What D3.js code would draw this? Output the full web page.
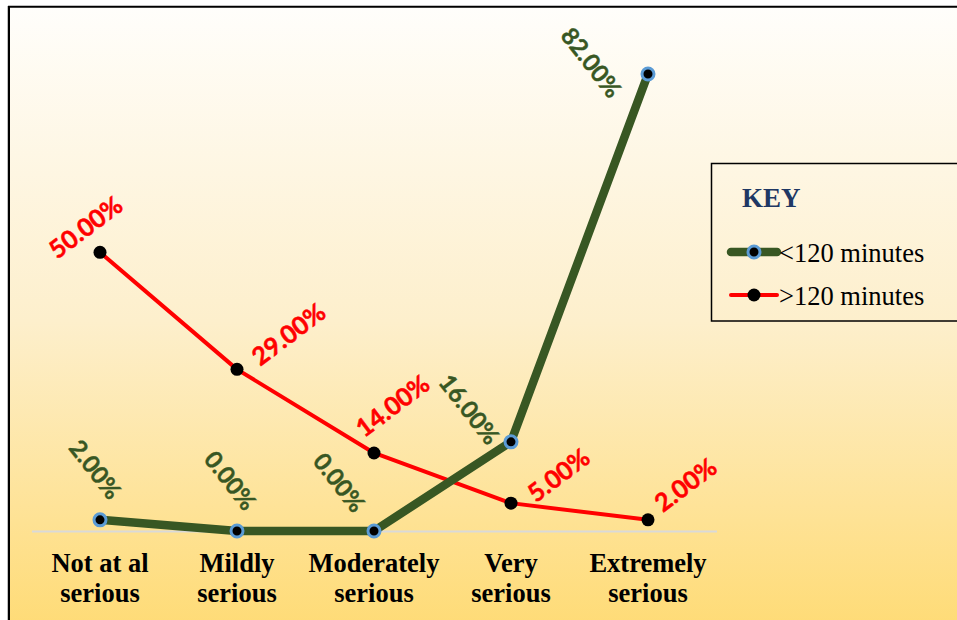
<!DOCTYPE html>
<html>
<head>
<meta charset="utf-8">
<script src="https://cdn.jsdelivr.net/npm/d3@7/dist/d3.min.js"></script>
<style>
  html, body { margin: 0; padding: 0; background: #ffffff; }
  svg { display: block; }
</style>
</head>
<body>
<svg id="chart" width="957" height="620"></svg>
<script>
// Perceived seriousness, by time spent
const categories = ["Not at al\nserious", "Mildly\nserious", "Moderately\nserious", "Very\nserious", "Extremely\nserious"];
const seriesNames = ["<120 minutes", ">120 minutes"];
const under120 = [0.02, 0.00, 0.00, 0.16, 0.82];
const over120 = [0.50, 0.29, 0.14, 0.05, 0.02];

// label nudges (label centre relative to its point), in px
const under120LabelNudge = [[-4, -51], [-6, -51], [-34, -49], [-41, -33], [-56, -12]];
const over120LabelNudge = [[-15, -26], [51, -36], [18, -48], [47, -29], [37, -36]];

const green = "#385723";
const red = "#ff0000";
const ringBlue = "#5b9bd5";

const svg = d3.select("#chart");

// background gradient
const defs = svg.append("defs");
const grad = defs.append("linearGradient").attr("id", "bg").attr("x1", 0).attr("y1", 0).attr("x2", 0).attr("y2", 1);
grad.append("stop").attr("offset", "0%").attr("stop-color", "#fffefb");
grad.append("stop").attr("offset", "45%").attr("stop-color", "#fdefcc");
grad.append("stop").attr("offset", "100%").attr("stop-color", "#ffd660");

svg.append("rect").attr("x", 8).attr("y", 6).attr("width", 1000).attr("height", 700).attr("fill", "url(#bg)");
svg.append("rect").attr("x", 9).attr("y", 6.75).attr("width", 1000).attr("height", 700)
  .attr("fill", "none").attr("stroke", "#000").attr("stroke-width", 2);
svg.append("line").attr("x1", 8.5).attr("x2", 8.5).attr("y1", 6).attr("y2", 620)
  .attr("stroke", "#000").attr("stroke-width", 1.5);

const x = d3.scaleBand().domain(categories).range([31.5, 716.5]);
const cx = c => x(c) + x.bandwidth() / 2;
const y = d3.scaleLinear().domain([0, 0.9]).range([531, 29.4]);

// category axis
const xAxis = svg.append("g").attr("transform", `translate(0,${y(0)})`)
  .call(d3.axisBottom(x).tickSize(0).tickFormat(""));
xAxis.select(".domain").attr("stroke", "#d9d9d9").attr("stroke-width", 2);

const catLabels = svg.append("g");
categories.forEach(c => {
  const t = catLabels.append("text")
    .attr("x", cx(c)).attr("y", 572)
    .attr("text-anchor", "middle")
    .attr("font-family", "'Liberation Serif', 'Times New Roman', serif")
    .attr("font-weight", "bold").attr("font-size", 26.5).attr("fill", "#000");
  c.split("\n").forEach((line, i) => {
    t.append("tspan").attr("x", cx(c)).attr("dy", i === 0 ? 0 : 30).text(line);
  });
});

const line = d3.line().x((d, i) => cx(categories[i])).y(d => y(d));
const pct = d3.format(".2%");

// >120 minutes
svg.append("path").datum(over120).attr("d", line)
  .attr("fill", "none").attr("stroke", red).attr("stroke-width", 4).attr("stroke-linejoin", "round");

// <120 minutes
svg.append("path").datum(under120).attr("d", line)
  .attr("fill", "none").attr("stroke", green).attr("stroke-width", 8.5).attr("stroke-linejoin", "round");

svg.append("g").selectAll("circle").data(over120).join("circle")
  .attr("cx", (d, i) => cx(categories[i])).attr("cy", d => y(d))
  .attr("r", 6.5).attr("fill", "#000");

svg.append("g").selectAll("circle").data(under120).join("circle")
  .attr("cx", (d, i) => cx(categories[i])).attr("cy", d => y(d))
  .attr("r", 6).attr("fill", "#000").attr("stroke", ringBlue).attr("stroke-width", 3);

// value labels
const labelFont = "Lato, 'Open Sans', sans-serif";
svg.append("g").selectAll("text").data(over120).join("text")
  .attr("transform", (d, i) => `translate(${cx(categories[i]) + over120LabelNudge[i][0]},${y(d) + over120LabelNudge[i][1]}) rotate(-37)`)
  .attr("text-anchor", "middle").attr("dominant-baseline", "central")
  .attr("font-family", labelFont).attr("font-weight", "bold").attr("font-size", 25)
  .attr("fill", red).attr("stroke", red).attr("stroke-width", 0.5).text(d => pct(d));

svg.append("g").selectAll("text").data(under120).join("text")
  .attr("transform", (d, i) => `translate(${cx(categories[i]) + under120LabelNudge[i][0]},${y(d) + under120LabelNudge[i][1]}) rotate(52)`)
  .attr("text-anchor", "middle").attr("dominant-baseline", "central")
  .attr("font-family", labelFont).attr("font-weight", "bold").attr("font-size", 24)
  .attr("fill", green).attr("stroke", green).attr("stroke-width", 0.4).text(d => pct(d));

// key
const key = svg.append("g");
key.append("rect").attr("x", 711.5).attr("y", 163.5).attr("width", 300).attr("height", 157.5)
  .attr("fill", "none").attr("stroke", "#000").attr("stroke-width", 1.5);
key.append("text").attr("x", 742).attr("y", 207)
  .attr("font-family", "'Liberation Serif', 'Times New Roman', serif")
  .attr("font-weight", "bold").attr("font-size", 27).attr("fill", "#1f3864").text("KEY");

const keyRows = [
  { name: seriesNames[0], color: green, width: 8.5, y: 252, ring: true },
  { name: seriesNames[1], color: red, width: 4, y: 295, ring: false }
];
keyRows.forEach(r => {
  key.append("line").attr("x1", 731).attr("x2", 777).attr("y1", r.y).attr("y2", r.y)
    .attr("stroke", r.color).attr("stroke-width", r.width).attr("stroke-linecap", "round");
  const m = key.append("circle").attr("cx", 754).attr("cy", r.y).attr("fill", "#000");
  if (r.ring) m.attr("r", 6).attr("stroke", ringBlue).attr("stroke-width", 3);
  else m.attr("r", 6.5);
  key.append("text").attr("x", 779).attr("y", r.y + 10)
    .attr("font-family", "'Liberation Serif', 'Times New Roman', serif")
    .attr("font-size", 26.5).attr("fill", "#000").text(r.name);
});
</script>
</body>
</html>
